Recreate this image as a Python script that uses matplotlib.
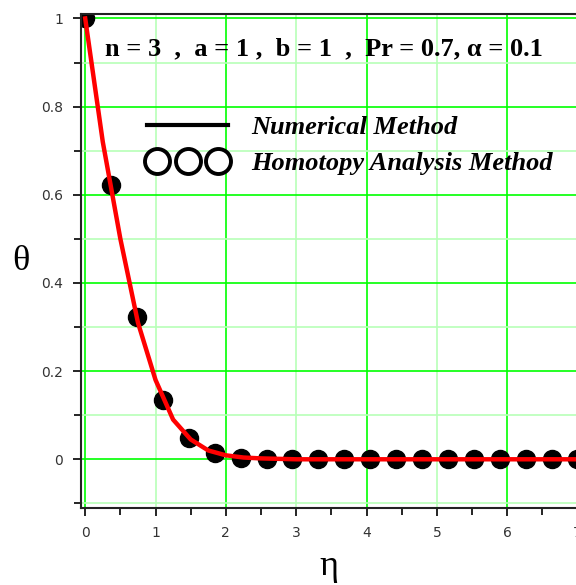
import numpy as np
import matplotlib.pyplot as plt
from matplotlib.lines import Line2D
from matplotlib.legend_handler import HandlerLine2D
from matplotlib.ticker import MultipleLocator

# numerical solution theta(eta)
eta_num = [0, 0.25, 0.5, 0.75, 1.0, 1.25, 1.5, 1.75, 2.0, 2.25, 2.5, 2.75, 3.0, 4.0, 5.0, 6.0, 7.0]
theta_num = [1.0, 0.72, 0.50, 0.31, 0.18, 0.09, 0.045, 0.02, 0.009, 0.004, 0.002, 0.001, 0, 0, 0, 0, 0]

# HAM solution sampled on 20 points
eta_ham = [0, 0.368, 0.737, 1.105, 1.474, 1.842, 2.211, 2.579, 2.947, 3.316,
           3.684, 4.053, 4.421, 4.789, 5.158, 5.526, 5.895, 6.263, 6.632, 7.0]
theta_ham = [1.0, 0.622, 0.322, 0.135, 0.048, 0.014, 0.004, 0.001, 0, 0,
             0, 0, 0, 0, 0, 0, 0, 0, 0, 0]

params = "n = 3  ,  a = 1 ,  b = 1  ,  Pr = 0.7, α = 0.1"

fig = plt.figure(figsize=(5.76, 5.85), dpi=100)
ax = fig.add_axes([0.1406, 0.132, 0.862, 0.844])
ax.set_xlim(-0.06, 7.0)
ax.set_ylim(-0.11, 1.01)

# grid: bright on major lines, pale on the in-between ones
bright = '#00ff00'
pale = '#b8ffb8'
for gx in range(0, 8):
    ax.axvline(gx, color=bright if gx % 2 == 0 else pale, lw=1.2, zorder=0)
for gy in np.arange(-0.1, 1.05, 0.1):
    major = abs(round(gy * 10)) % 2 == 0
    ax.axhline(gy, color=bright if major else pale, lw=1.2, zorder=0)

ax.plot(eta_ham, theta_ham, 'o', color='black', markersize=13, zorder=2)
ax.plot(eta_num, theta_num, color='red', lw=3.2, zorder=3)

ax.spines['right'].set_visible(False)
for s in ['left', 'bottom', 'top']:
    ax.spines[s].set_linewidth(1.5)
    ax.spines[s].set_color('#222222')

ax.xaxis.set_major_locator(MultipleLocator(1))
ax.xaxis.set_minor_locator(MultipleLocator(0.5))
ax.yaxis.set_minor_locator(MultipleLocator(0.1))
ax.set_yticks(np.arange(0, 1.01, 0.2))
ax.set_yticklabels(['0', '0.2', '0.4', '0.6', '0.8', '1'])
ax.tick_params(which='both', direction='out', top=False, right=False,
               labelsize=10, labelcolor='#333333', width=1.2)
ax.tick_params(which='major', length=6, pad=7)
ax.tick_params(which='minor', length=5)

ax.set_xlabel('η', fontsize=26, family='Liberation Serif', labelpad=7)
ax.set_ylabel('θ', fontsize=26, family='Liberation Serif', rotation=0, va='center')
ax.yaxis.set_label_coords(-0.12, 0.498)

ax.text(0.048, 0.93, params, transform=ax.transAxes, fontsize=19,
        family='Liberation Serif', fontweight='bold', va='center', ha='left')

handles = [Line2D([], [], color='black', lw=3),
           Line2D([], [], ls='none', marker='o', markersize=18,
                  mfc='white', mec='black', mew=2.8)]
labels = ['Numerical Method', 'Homotopy Analysis Method']
leg = ax.legend(handles, labels, loc='upper left', bbox_to_anchor=(0.111, 0.816),
                frameon=False, numpoints=3, handlelength=3.1, handletextpad=0.85,
                labelspacing=0.48, borderaxespad=0,
                handler_map={handles[0]: HandlerLine2D(numpoints=3, marker_pad=0),
                             handles[1]: HandlerLine2D(numpoints=3, marker_pad=0.4)},
                prop={'family': 'Liberation Serif', 'weight': 'bold',
                      'style': 'italic', 'size': 19})

fig.savefig('out.png', dpi=100)
